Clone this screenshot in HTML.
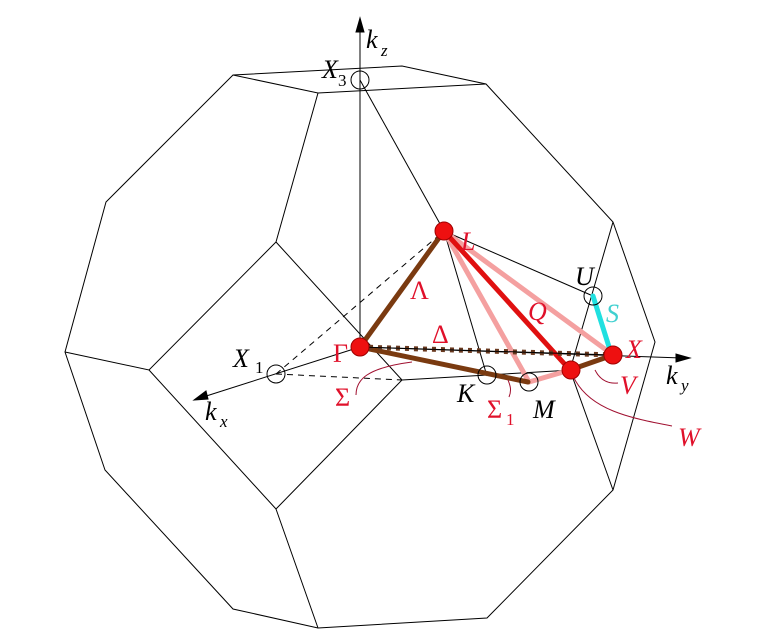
<!DOCTYPE html>
<html><head><meta charset="utf-8"><style>
html,body{margin:0;padding:0;background:#fff}
svg{display:block}
text{font-family:"Liberation Serif",serif;font-style:italic;font-size:26px}
.r{fill:#e0102a}
.s{font-size:17px}
</style></head><body>
<svg width="775" height="636" viewBox="0 0 775 636" xmlns="http://www.w3.org/2000/svg">
<g fill="none" stroke="#000" stroke-width="1">
<polygon points="233,75 402,66 486,84 613,222 655,342 613,490 487,618 318,628 233,609 105,470 65,352 106,202"/>
<polyline points="233,75 318,93 486,84"/>
<polyline points="318,93 276,242 149,370 65,352"/>
<polyline points="276,242 402,380 276,509 149,370"/>
<line x1="276" y1="509" x2="318" y2="628"/>
<line x1="402" y1="380" x2="572" y2="370"/>
<polyline points="613,222 570,370 613,490"/>
<line x1="360" y1="80" x2="444" y2="231"/>
<line x1="444" y1="231" x2="487" y2="376"/>
<line x1="444" y1="231" x2="593" y2="296"/>
<line x1="360" y1="347" x2="360" y2="24"/>
<polygon points="360,18 356,32 364,32" fill="#000"/>
<line x1="360" y1="347" x2="200" y2="398"/>
<polygon points="194,400 206,391 208,399" fill="#000"/>
<line x1="360" y1="347" x2="682" y2="358"/>
<polygon points="690,358 676,354 676,362" fill="#000"/>
<line x1="276" y1="374" x2="444" y2="231" stroke-dasharray="6,5"/>
<line x1="276" y1="374" x2="402" y2="380" stroke-dasharray="6,5"/>
</g>
<g stroke-linecap="round" fill="none">
<line x1="444" y1="231" x2="529" y2="382" stroke="#f4a0a0" stroke-width="5"/>
<line x1="444" y1="231" x2="613" y2="355" stroke="#f4a0a0" stroke-width="5"/>
<line x1="529" y1="382" x2="570" y2="370" stroke="#f4a0a0" stroke-width="5"/>
<line x1="444" y1="231" x2="570" y2="370" stroke="#e01010" stroke-width="5"/>
<line x1="593" y1="296" x2="610" y2="350" stroke="#20e0e0" stroke-width="5"/>
<line x1="360" y1="347" x2="444" y2="231" stroke="#7a3a10" stroke-width="5"/>
<line x1="360" y1="347" x2="528" y2="382" stroke="#7a3a10" stroke-width="5"/>
<line x1="570" y1="370" x2="613" y2="355" stroke="#7a3a10" stroke-width="5"/>
<line x1="360" y1="347" x2="613" y2="355" stroke="#6a3a20" stroke-width="5" stroke-dasharray="4,5" stroke-linecap="butt"/>
<line x1="360" y1="347" x2="613" y2="355" stroke="#000" stroke-width="1"/>
</g>
<g fill="none" stroke="#000" stroke-width="1">
<circle cx="360" cy="80" r="9"/>
<circle cx="276" cy="374" r="9"/>
<circle cx="487" cy="375" r="9"/>
<circle cx="529" cy="382" r="9"/>
<circle cx="593" cy="296" r="9"/>
</g>
<g fill="#ee1010" stroke="#a00000" stroke-width="1">
<circle cx="360" cy="347" r="9"/>
<circle cx="444" cy="231" r="9"/>
<circle cx="571" cy="370" r="9"/>
<circle cx="613" cy="355" r="9"/>
</g>
<g fill="none" stroke="#a01030" stroke-width="1">
<path d="M356,395 C356,380 366,368 412,362"/>
<path d="M509,397 C512,390 510,385 508,380"/>
<path d="M595,370 C600,380 608,384 618,383"/>
<path d="M574,378 C590,410 630,418 672,426"/>
</g>
<text x="366" y="48">k</text><text class="s" x="381" y="56">z</text>
<text x="322" y="78">X</text><text class="s" x="338" y="86" style="font-style:normal">3</text>
<text x="233" y="367">X</text><text class="s" x="255" y="373" style="font-style:normal">1</text>
<text x="205" y="420">k</text><text class="s" x="220" y="427">x</text>
<text x="666" y="384">k</text><text class="s" x="681" y="391">y</text>
<text x="457" y="402">K</text>
<text x="533" y="418">M</text>
<text x="575" y="285">U</text>
<text class="r" x="461" y="250">L</text>
<text class="r" x="410" y="299" style="font-style:normal">Λ</text>
<text class="r" x="333" y="362" style="font-style:normal">Γ</text>
<text class="r" x="432" y="343" style="font-style:normal">Δ</text>
<text class="r" x="528" y="320">Q</text>
<text x="606" y="322" style="fill:#40d0d0">S</text>
<text class="r" x="626" y="358">X</text>
<text class="r" x="620" y="394">V</text>
<text class="r" x="678" y="446">W</text>
<text class="r" x="335" y="406" style="font-style:normal">Σ</text>
<text class="r" x="487" y="418" style="font-style:normal">Σ</text><text class="r s" x="506" y="425" style="font-style:normal">1</text>
</svg>
</body></html>
